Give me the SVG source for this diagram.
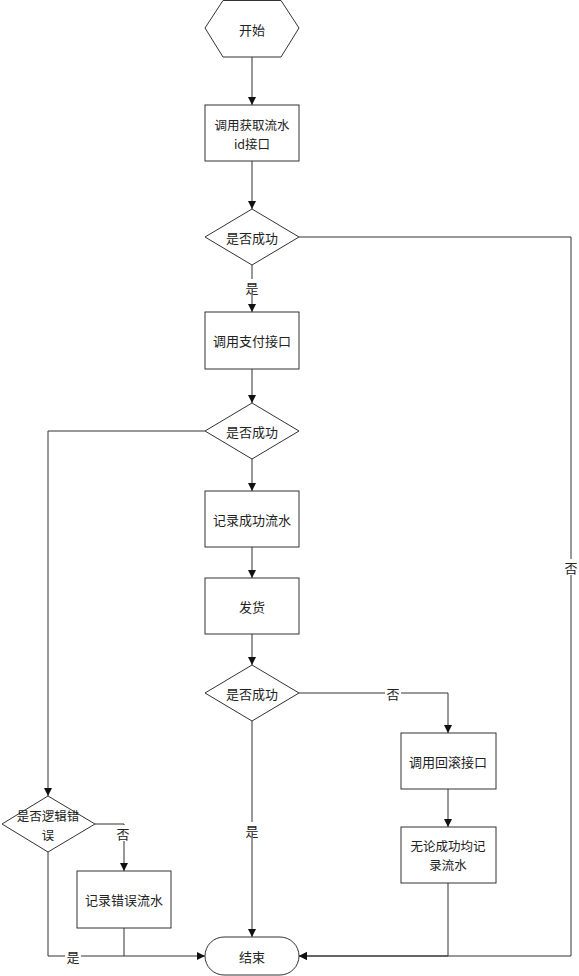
<svg xmlns="http://www.w3.org/2000/svg" width="579" height="976" viewBox="0 0 579 976">
<style>
.n{fill:#fff;stroke:#333;stroke-width:1}
.t{font-family:"Noto Sans CJK SC","Noto Sans",sans-serif;font-size:13px;fill:#222;text-anchor:middle;dominant-baseline:central}
.s{font-size:12.5px}
.c{fill:none;stroke:#333;stroke-width:1}
.bg{fill:#fff}
</style>
<defs>
<marker id="a" viewBox="0 0 10 10" refX="10" refY="5" markerWidth="8" markerHeight="8" markerUnits="userSpaceOnUse" orient="auto">
<path d="M0,0L10,5L0,10z" fill="#111"/>
</marker>
</defs>
<rect width="579" height="976" fill="#fff"/>
<g id="connectors">
<path class="c" d="M252,57V105" marker-end="url(#a)"/>
<path class="c" d="M252,161V209" marker-end="url(#a)"/>
<path class="c" d="M252,265V312" marker-end="url(#a)"/>
<path class="c" d="M252,369V403" marker-end="url(#a)"/>
<path class="c" d="M252,459V491" marker-end="url(#a)"/>
<path class="c" d="M252,547V578" marker-end="url(#a)"/>
<path class="c" d="M252,634V665" marker-end="url(#a)"/>
<path class="c" d="M252,721V937" marker-end="url(#a)"/>
<path class="c" d="M299,693H448V733" marker-end="url(#a)"/>
<path class="c" d="M448,789V827" marker-end="url(#a)"/>
<path class="c" d="M448,883V956H299" marker-end="url(#a)"/>
<path class="c" d="M299,237H571V956H299" marker-end="url(#a)"/>
<path class="c" d="M205,431H48V796" marker-end="url(#a)"/>
<path class="c" d="M95,824H124V871" marker-end="url(#a)"/>
<path class="c" d="M124,928V956"/>
<path class="c" d="M48,852V956H205" marker-end="url(#a)"/>
<rect class="bg" x="244" y="279" width="16" height="16"/>
<text class="t" x="252" y="287">是</text>
<rect class="bg" x="244" y="822" width="16" height="16"/>
<text class="t" x="252" y="830">是</text>
<rect class="bg" x="385" y="685" width="16" height="16"/>
<text class="t" x="393" y="693">否</text>
<rect class="bg" x="563" y="559" width="16" height="16"/>
<text class="t" x="571" y="567">否</text>
<rect class="bg" x="115" y="825" width="16" height="16"/>
<text class="t" x="123" y="833">否</text>
<rect class="bg" x="65" y="948" width="16" height="16"/>
<text class="t" x="73" y="956">是</text>
</g>
<g id="start">
<polygon class="n" points="205,28 223,0.5 281,0.5 299,28 281,57 223,57"/>
<text class="t" x="252" y="29">开始</text>
</g>
<g id="getId">
<rect class="n" x="205" y="105" width="94" height="56"/>
<text class="t s" x="252" y="124">调用获取流水</text>
<text class="t s" x="252" y="143">id接口</text>
</g>
<g id="check1">
<polygon class="n" points="252,209 299,237 252,265 205,237"/>
<text class="t" x="252" y="237">是否成功</text>
</g>
<g id="pay">
<rect class="n" x="205" y="312" width="94" height="57"/>
<text class="t" x="252" y="340">调用支付接口</text>
</g>
<g id="check2">
<polygon class="n" points="252,403 299,431 252,459 205,431"/>
<text class="t" x="252" y="431">是否成功</text>
</g>
<g id="logSuccess">
<rect class="n" x="205" y="491" width="94" height="56"/>
<text class="t" x="252" y="519">记录成功流水</text>
</g>
<g id="ship">
<rect class="n" x="205" y="578" width="94" height="56"/>
<text class="t" x="252" y="606">发货</text>
</g>
<g id="check3">
<polygon class="n" points="252,665 299,693 252,721 205,693"/>
<text class="t" x="252" y="693">是否成功</text>
</g>
<g id="rollback">
<rect class="n" x="401" y="733" width="95" height="56"/>
<text class="t" x="448" y="761">调用回滚接口</text>
</g>
<g id="logAlways">
<rect class="n" x="401" y="827" width="95" height="56"/>
<text class="t s" x="448" y="845">无论成功均记</text>
<text class="t s" x="448" y="864">录流水</text>
</g>
<g id="logicCheck">
<polygon class="n" points="48,796 95,824 48,852 2,824"/>
<text class="t s" x="48" y="815">是否逻辑错</text>
<text class="t s" x="48" y="834">误</text>
</g>
<g id="logError">
<rect class="n" x="77" y="871" width="94" height="57"/>
<text class="t" x="124" y="899">记录错误流水</text>
</g>
<g id="end">
<rect class="n" x="205" y="937" width="94" height="38" rx="19" ry="19"/>
<text class="t" x="252" y="956">结束</text>
</g>
</svg>
